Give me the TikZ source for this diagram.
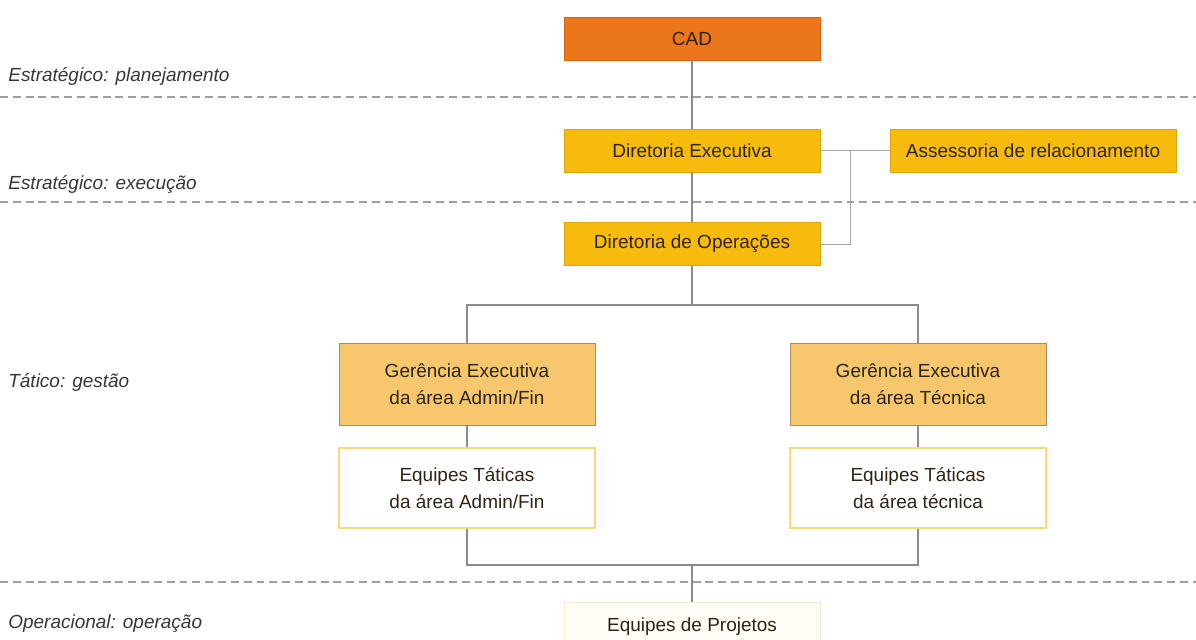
\documentclass[tikz,border=0pt]{standalone}
\usepackage{fontspec}
\setmainfont{Liberation Sans}
\definecolor{cadorange}{RGB}{236,118,28}
\definecolor{cadedge}{RGB}{214,100,20}
\definecolor{dirgold}{RGB}{246,187,12}
\definecolor{diredge}{RGB}{222,165,10}
\definecolor{gerfill}{RGB}{247,199,110}
\definecolor{geredge}{RGB}{170,140,95}
\definecolor{eqedge}{RGB}{249,216,125}
\definecolor{projfill}{RGB}{255,253,246}
\definecolor{projedge}{RGB}{244,237,214}
\definecolor{boxtext}{RGB}{45,36,22}
\definecolor{lvltext}{RGB}{55,55,55}

\begin{document}
\begin{tikzpicture}[x=0.02cm,y=-0.02cm,
  box/.style={draw, inner sep=0pt, align=center, text=boxtext,
    minimum width=5.12cm, minimum height=0.86cm,
    font=\fontsize{10.8}{15.5}\selectfont},
  cadbox/.style={box, fill=cadorange, draw=cadedge},
  dirbox/.style={box, fill=dirgold, draw=diredge},
  gerbox/.style={box, fill=gerfill, draw=geredge, minimum height=1.64cm},
  eqbox/.style={box, fill=white, draw=eqedge, line width=1.2pt, minimum height=1.6cm},
  projbox/.style={box, fill=projfill, draw=projedge, minimum height=1cm},
  level/.style={anchor=west, inner sep=0pt, text=lvltext,
    font=\fontsize{10.8}{13}\selectfont\itshape},
  conn/.style={draw=gray!90, line width=0.6pt},
  sep/.style={draw=gray!75, line width=0.8pt, dash pattern=on 4.5pt off 2.8pt}]
  \clip (0,0) rectangle (1196,639);

  % levels
  \draw[sep] (0,97) -- (1196,97);
  \draw[sep] (0,202) -- (1196,202);
  \draw[sep] (0,582) -- (1196,582);
  \node[level] (lvlplan) at (8,76) {Estratégico: planejamento};
  \node[level] (lvlexec) at (8,184) {Estratégico: execução};
  \node[level] (lvlgest) at (8,382) {Tático: gestão};
  \node[level] (lvloper) at (8,624) {Operacional: operação};

  % boxes
  \node[cadbox] (cad) at (692,38.5) {CAD};
  \node[dirbox] (direxec) at (692,150.5) {Diretoria Executiva};
  \node[dirbox, minimum width=5.72cm] (assess) at (1033,150.5) {Assessoria de relacionamento};
  \node[dirbox] (dirop) at (692,244) {Diretoria de Operações};
  \node[gerbox] (geradm) at (467,384) {Gerência Executiva\\da área Admin/Fin};
  \node[gerbox] (gertec) at (918,384) {Gerência Executiva\\da área Técnica};
  \node[eqbox] (eqadm) at (467,488) {Equipes Táticas\\da área Admin/Fin};
  \node[eqbox] (eqtec) at (918,488) {Equipes Táticas\\da área técnica};
  \node[projbox] (proj) at (692,627) {Equipes de Projetos};

  \coordinate (split) at (692,305);
  \coordinate (join) at (692,565);
  \coordinate (assbend) at (850,150.5);

  % connectors
  \draw[conn] (cad) -- (direxec);
  \draw[conn] (direxec) -- (dirop);
  \draw[conn] (dirop) -- (split);
  \draw[conn] (geradm.north) |- (split) -| (gertec.north);
  \draw[conn] (geradm) -- (eqadm);
  \draw[conn] (gertec) -- (eqtec);
  \draw[conn] (eqadm.south) |- (join) -| (eqtec.south);
  \draw[conn] (join) -- (proj);
  \draw[conn, draw=gray!70, line width=0.5pt] (direxec.east) -- (assess.west);
  \draw[conn, draw=gray!70, line width=0.5pt] (dirop.east) -| (assbend);
\end{tikzpicture}
\end{document}
